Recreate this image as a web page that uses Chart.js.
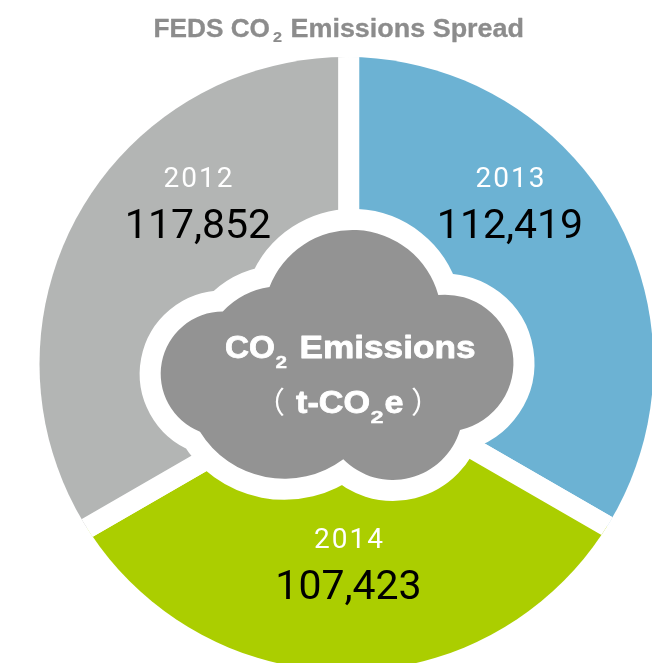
<!DOCTYPE html>
<html><head><meta charset="utf-8">
<style>html,body{margin:0;padding:0;background:#fff}canvas{display:block}</style>
<script src="https://cdn.jsdelivr.net/npm/chart.js@4"></script>
</head><body>
<canvas id="c" width="652" height="663"></canvas>
<script>
const years = ['2013','2014','2012'];
const emissions = [112419,107423,117852];
const sliceDegrees = [120,120,120];
const sliceColors = ['#6CB2D3','#ABCE00','#B3B5B4'];
const titleParts = ['FEDS CO','2','Emissions Spread'];
const centerParts = ['CO','2','Emissions','（','t-CO','2','e','）'];

const labelPos = [
  {x:510, yearY:186.5, valueY:238},
  {x:348.5, yearY:547.5, valueY:599},
  {x:198, yearY:186.5, valueY:238}
];
const rim = {x:346.5, y:364, r:307};
const cloud = new Path2D('M269.5 287 A89 89 0 0 1 438.3 295 A68.5 68.5 0 0 1 460 430 A70 70 0 0 1 343.3 459.3 A99 99 0 0 1 200 431.7 A62.3 62.3 0 0 1 222.8 311.5 A80 80 0 0 1 269.5 287 Z');

function fit(ctx,text,x,y,w,font,color,weight){
  ctx.save();
  ctx.font=font;ctx.fillStyle=color;ctx.textAlign='left';ctx.textBaseline='alphabetic';
  const m=ctx.measureText(text).width;
  ctx.translate(x,y);ctx.scale(w/m,1);
  if(weight){ctx.strokeStyle=color;ctx.lineWidth=weight;ctx.lineJoin='round';ctx.strokeText(text,0,0);}
  ctx.fillText(text,0,0);
  ctx.restore();
}
const rimClip={id:'rimClip',
  beforeDatasetsDraw(ch){const c=ch.ctx;c.save();c.beginPath();c.arc(rim.x,rim.y,rim.r,0,Math.PI*2);c.clip();},
  afterDatasetsDraw(ch){ch.ctx.restore();}
};
const overlay={id:'overlay',afterDraw(ch){
  const c=ch.ctx;
  c.save();
  c.lineJoin='round';c.strokeStyle='#fff';c.lineWidth=42;c.stroke(cloud);
  c.fillStyle='#939393';c.fill(cloud);
  c.restore();

  const tc='#8C8C8C', tb='bold 25.5px "Liberation Sans"';
  fit(c,titleParts[0],153.5,36.5,116.5,tb,tc,0.3);
  fit(c,titleParts[1],273,41.7,9,'bold 14px "Liberation Sans"',tc,0.2);
  fit(c,titleParts[2],290.5,36.5,233.5,tb,tc,0.3);

  const cb='bold 31px "Liberation Sans"', sb='bold 16.5px "Liberation Sans"';
  fit(c,centerParts[0],225,357.5,50,cb,'#fff',0.8);
  fit(c,centerParts[1],275.5,368,11.5,sb,'#fff',0.4);
  fit(c,centerParts[2],299.5,357.5,176,cb,'#fff',0.8);
  fit(c,centerParts[4],296,413,74,cb,'#fff',0.8);
  fit(c,centerParts[5],370.5,423,13,sb,'#fff',0.4);
  fit(c,centerParts[6],384.5,413,19,cb,'#fff',0.8);
  c.save();c.fillStyle='#fff';c.font='30px "Noto Sans CJK JP"';c.textBaseline='alphabetic';c.textAlign='center';
  c.fillText(centerParts[3],270,413);
  c.fillText(centerParts[7],426,413);
  c.restore();

  years.forEach((y,i)=>{
    const p=labelPos[i];
    c.save();c.textAlign='center';c.textBaseline='alphabetic';
    c.fillStyle='#fff';c.font='28px Roboto';c.letterSpacing='2px';
    c.fillText(y,p.x+1,p.yearY);
    c.letterSpacing='0px';
    c.fillStyle='#000';c.font='41px Roboto';
    c.fillText(emissions[i].toLocaleString('en-US'),p.x,p.valueY);
    c.restore();
  });
}};
new Chart(document.getElementById('c'),{
  type:'pie',
  data:{labels:years,datasets:[{data:sliceDegrees,backgroundColor:sliceColors,borderColor:'#fff',borderWidth:21,borderAlign:'center',clip:false}]},
  options:{
    responsive:false,animation:false,
    radius:345,
    layout:{padding:{left:45.3,top:91,right:0,bottom:0}},
    plugins:{legend:{display:false},tooltip:{enabled:false},title:{display:false}}
  },
  plugins:[rimClip,overlay]
});
</script>
</body></html>
